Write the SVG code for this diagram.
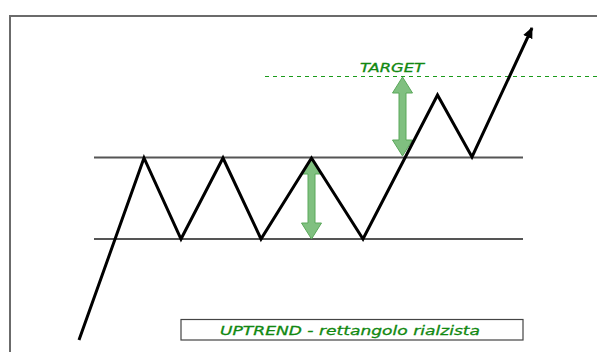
<svg xmlns="http://www.w3.org/2000/svg" width="597" height="352" viewBox="0 0 597 352">
  <style>
    .frame { fill: #fff; stroke: #6b6b6b; stroke-width: 2; }
    .level { stroke: #555; stroke-width: 2; fill: none; }
    .price { stroke: #000; stroke-width: 3; fill: none; stroke-linejoin: miter; }
    .target { stroke: #1a9a1a; stroke-width: 1.2; stroke-dasharray: 4 4; fill: none; }
    .measure { fill: #80c080; stroke: #5aa85a; stroke-width: 1; }
    .label { fill: #118811; font-family: "DejaVu Sans", Verdana, sans-serif; font-style: italic; stroke: #118811; stroke-width: 0.3; }
    .box { fill: #fff; stroke: #444; stroke-width: 1.2; }
  </style>
  <defs>
    <marker id="head" markerWidth="11" markerHeight="10" refX="10" refY="5" orient="auto" markerUnits="userSpaceOnUse">
      <path d="M0,0 L11,5 L0,10 Z" fill="#000"/>
    </marker>
  </defs>

  <rect width="597" height="352" fill="#fff"/>
  <rect class="frame" x="10" y="16" width="600" height="350"/>

  <!-- support and resistance -->
  <g id="resistance"><line class="level" x1="94" y1="157.5" x2="523" y2="157.5"/></g>
  <g id="support"><line class="level" x1="94" y1="239" x2="523" y2="239"/></g>

  <!-- target level -->
  <g id="target">
    <line class="target" x1="265" y1="76.5" x2="597" y2="76.5"/>
    <text class="label" x="392" y="72" font-size="13" text-anchor="middle" textLength="64" lengthAdjust="spacingAndGlyphs">TARGET</text>
  </g>

  <!-- height measures -->
  <g id="measure-range">
    <path class="measure" d="M311.5,158 L321.5,174 L315,174 L315,223 L321.5,223 L311.5,239 L301.5,223 L308,223 L308,174 L301.5,174 Z"/>
  </g>
  <g id="measure-target">
    <path class="measure" d="M402.5,77 L412.5,93 L406,93 L406,140 L412.5,140 L402.5,156 L392.5,140 L399,140 L399,93 L392.5,93 Z"/>
  </g>

  <!-- price path -->
  <g id="connectors">
    <polyline class="price" marker-end="url(#head)" points="79,340 144,158 181,239 223,158 261,239 311.5,158 363,239 437.5,95 472,157 532,28"/>
  </g>

  <!-- caption -->
  <g id="caption">
    <rect class="box" x="181" y="319.5" width="342" height="20.5"/>
    <text class="label" x="350" y="334.5" font-size="13" text-anchor="middle" textLength="260" lengthAdjust="spacingAndGlyphs">UPTREND - rettangolo rialzista</text>
  </g>
</svg>
